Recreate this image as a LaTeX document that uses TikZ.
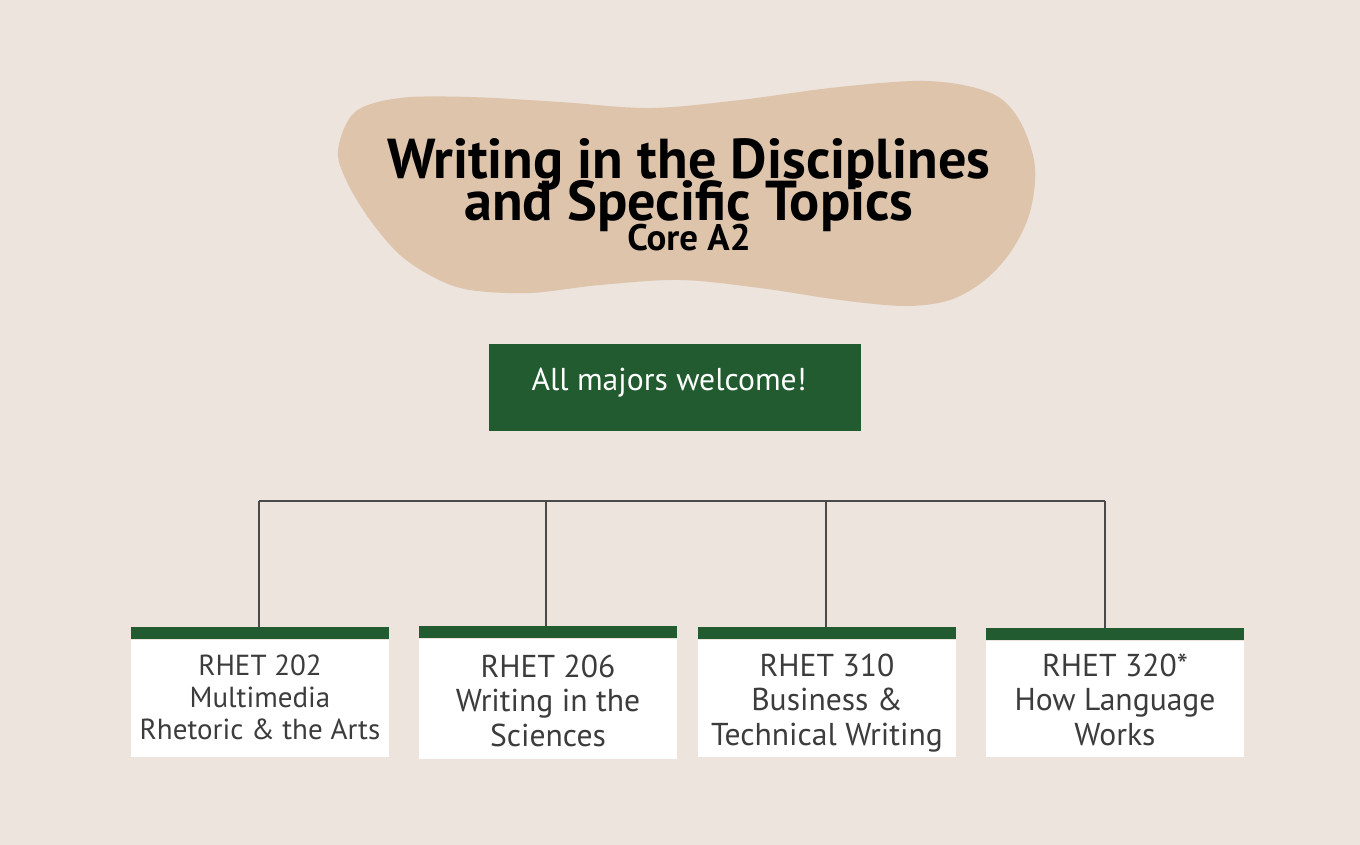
\documentclass[tikz,border=0pt]{standalone}
\usepackage{fontspec}
\setmainfont{PT Sans}
\definecolor{paper}{HTML}{EDE4DD}
\definecolor{sand}{HTML}{DDC4AB}
\definecolor{leaf}{HTML}{215B2F}
\definecolor{ink}{HTML}{3C3C3C}
\definecolor{wire}{HTML}{4A4A4A}
\newcommand\tightlines{\lineskiplimit=-60pt\relax}

\begin{document}
\begin{tikzpicture}[x=0.02cm, y=-0.02cm,
  course/.style={fill=white, minimum width=5.16cm, minimum height=2.34cm, inner sep=0pt},
  coursetext/.style={align=center, text=ink, inner sep=0pt, font=\fontsize{18}{19.8}\selectfont},
  topbar/.style={fill=leaf, minimum width=5.16cm, minimum height=0.24cm, inner sep=0pt, anchor=south},
  link/.style={draw=wire, line width=0.6pt},
  heading/.style={align=center, inner sep=0pt, font=\bfseries\fontsize{32}{23.8}\selectfont\tightlines}]
\useasboundingbox (0,0) rectangle (1360,845);
\fill[paper] (0,0) rectangle (1360,845);
\fill[sand] plot[smooth cycle, tension=0.55] coordinates {(338,150) (355,112) (400,98) (470,97) (560,102)
  (650,108) (740,100) (830,88) (913,81) (963,85) (1000,98) (1022,125) (1035,167) (1030,212) (1012,250)
  (985,280) (950,300) (905,306) (840,300) (760,288) (680,280) (600,285) (530,293) (470,290) (435,278)
  (400,255) (370,220) (347,182)};
\node[heading, anchor=base] (title) at (689,250) {Writing in the Disciplines\\and Specific Topics\\[-6.8pt]\fontsize{21}{23.8}\selectfont Core A2};
\node[fill=leaf, minimum width=7.44cm, minimum height=1.74cm] (welcome) at (675,387.5) {};
\node[text=white, font=\fontsize{18}{20}\selectfont] (welcometext) at (669,383) {All majors welcome!};
\node[course] (c202) at (260,698.5) {};
\node[course, minimum height=2.4cm] (c206) at (548,699) {};
\node[course] (c310) at (827,698.5) {};
\node[course, minimum height=2.32cm] (c320) at (1115,699) {};
\node[coursetext, font=\fontsize{16.5}{18.4}\selectfont] (t202) at (260,701) {\strut RHET 202\\Multimedia\\Rhetoric \& the Arts\strut};
\node[coursetext] (t206) at (548,705) {\strut RHET 206\\Writing in the\\Sciences\strut};
\node[coursetext] (t310) at (827,704) {\strut RHET 310\\Business \&\\Technical Writing\strut};
\node[coursetext] (t320) at (1115,704) {\strut RHET 320*\\How Language\\Works\strut};
\node[topbar] (bar202) at (c202.north) {};
\node[topbar] (bar206) at (c206.north) {};
\node[topbar] (bar310) at (c310.north) {};
\node[topbar] (bar320) at (c320.north) {};
\coordinate (j202) at (259,501);
\coordinate (j206) at (546,501);
\coordinate (j310) at (826,501);
\coordinate (j320) at (1105,501);
\draw[link] (j202) -- (j320);
\draw[link] (j202) -- (j202 |- bar202.north);
\draw[link] (j206) -- (j206 |- bar206.north);
\draw[link] (j310) -- (j310 |- bar310.north);
\draw[link] (j320) -- (j320 |- bar320.north);
\end{tikzpicture}
\end{document}
